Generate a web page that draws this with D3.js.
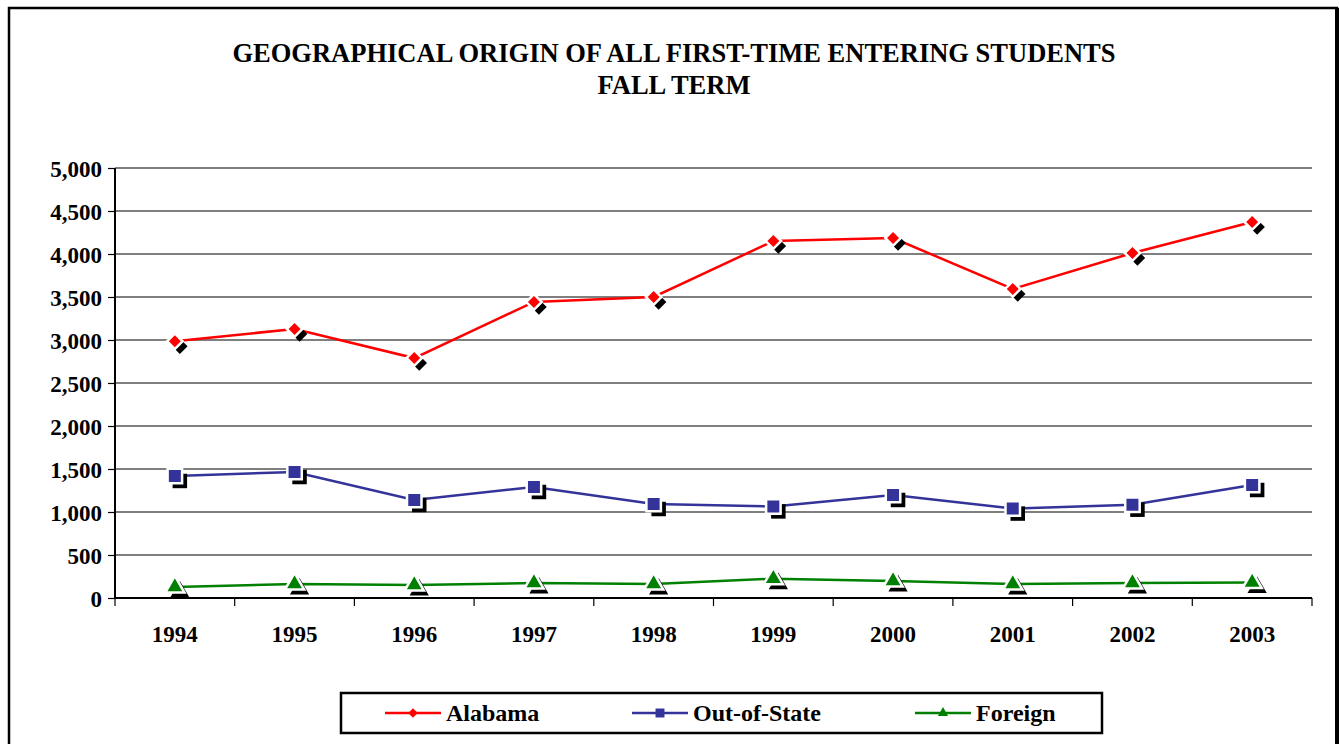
<!DOCTYPE html>
<html>
<head>
<meta charset="utf-8">
<script src="https://cdn.jsdelivr.net/npm/d3@7"></script>
<style>
  body { margin: 0; background: #fff; }
  svg { display: block; }
  text { font-family: "Liberation Serif", "Times New Roman", serif; font-weight: bold; fill: #000; }
</style>
</head>
<body>
<div id="chart"></div>
<script>
// Data
const years = ["1994", "1995", "1996", "1997", "1998", "1999", "2000", "2001", "2002", "2003"];
const alabama = [2986, 3128, 2790, 3442, 3500, 4151, 4186, 3593, 4012, 4372];
const outOfState = [1419, 1465, 1140, 1291, 1093, 1065, 1198, 1040, 1085, 1314];
const foreign = [128, 163, 151, 174, 163, 225, 198, 163, 174, 180];
const yTicks = [0, 500, 1000, 1500, 2000, 2500, 3000, 3500, 4000, 4500, 5000];
const titleLines = ["GEOGRAPHICAL ORIGIN OF ALL FIRST-TIME ENTERING STUDENTS", "FALL TERM"];

const series = [
    { name: "Alabama", values: alabama, color: "#FF0000", symbol: "diamond" },
    { name: "Out-of-State", values: outOfState, color: "#333399", symbol: "square" },
    { name: "Foreign", values: foreign, color: "#008000", symbol: "triangle" }
];

const W = 1339, H = 744;
const margin = { top: 168, right: 27, bottom: 146, left: 115 },
    width = W - margin.left - margin.right,
    height = H - margin.top - margin.bottom;

const svg = d3.select("#chart").append("svg")
    .attr("width", W)
    .attr("height", H);

// Outer frame
svg.append("rect")
    .attr("x", 9).attr("y", 8)
    .attr("width", 1328).attr("height", 760)
    .attr("fill", "none")
    .attr("stroke", "#000")
    .attr("stroke-width", 2.5);
svg.append("rect")
    .attr("x", 1335).attr("y", 8)
    .attr("width", 4).attr("height", H)
    .attr("fill", "#000");

// Title
svg.selectAll(".title")
    .data(titleLines)
    .enter()
    .append("text")
    .attr("x", 674)
    .attr("y", (d, i) => 62 + i * 32)
    .attr("text-anchor", "middle")
    .style("font-size", "26.5px")
    .text(d => d);

const g = svg.append("g")
    .attr("transform", `translate(${margin.left},${margin.top})`);

const x = d3.scaleBand()
    .domain(years)
    .range([0, width]);

const y = d3.scaleLinear()
    .domain([0, 5000])
    .range([height, 0]);

// Gridlines
g.selectAll(".grid")
    .data(yTicks.filter(d => d > 0))
    .enter()
    .append("line")
    .attr("x1", 0).attr("x2", width)
    .attr("y1", d => y(d)).attr("y2", d => y(d))
    .attr("stroke", "#000")
    .attr("stroke-width", 1.2);

// Y axis
g.append("g")
    .call(d3.axisLeft(y).tickValues(yTicks).tickSize(7).tickPadding(6).tickFormat(d3.format(",")))
    .call(a => a.select(".domain").attr("stroke-width", 2).attr("d", `M0,0V${height}`))
    .call(a => a.selectAll("line").attr("stroke-width", 1.2))
    .selectAll("text")
    .style("font-size", "23px")
    .style("font-family", "Liberation Serif, serif")
    .style("font-weight", "bold")
    .attr("dy", "0.35em");

// X axis: ticks between categories
const xAxis = g.append("g")
    .attr("transform", `translate(0,${height})`);
xAxis.append("line")
    .attr("x1", 0).attr("x2", width)
    .attr("stroke", "#000").attr("stroke-width", 2);
xAxis.selectAll(".xtick")
    .data(years.concat(["end"]))
    .enter()
    .append("line")
    .attr("x1", (d, i) => i * x.step())
    .attr("x2", (d, i) => i * x.step())
    .attr("y1", 0).attr("y2", 8)
    .attr("stroke", "#000").attr("stroke-width", 1.2);
xAxis.selectAll(".xlabel")
    .data(years)
    .enter()
    .append("text")
    .attr("x", d => x(d) + x.bandwidth() / 2)
    .attr("y", 44)
    .attr("text-anchor", "middle")
    .style("font-size", "23px")
    .text(d => d);

// Marker shapes
const symbolType = {
    diamond: d3.symbolSquare,
    square: d3.symbolSquare,
    triangle: d3.symbolTriangle
};
function markerPath(s, size) {
    return d3.symbol().type(symbolType[s]).size(size)();
}
function markerRotate(s) {
    return s === "diamond" ? " rotate(45)" : "";
}
const markerSize = { diamond: 120, square: 210, triangle: 160 };

const line = d3.line()
    .x((d, i) => x(years[i]) + x.bandwidth() / 2)
    .y(d => y(d));

series.forEach(s => {
    g.append("path")
        .datum(s.values)
        .attr("fill", "none")
        .attr("stroke", s.color)
        .attr("stroke-width", 2.5)
        .attr("d", line);

    const pts = g.append("g").selectAll("g")
        .data(s.values)
        .enter()
        .append("g")
        .attr("transform", (d, i) => `translate(${x(years[i]) + x.bandwidth() / 2},${y(d)})`);

    // shadow
    pts.append("path")
        .attr("d", markerPath(s.symbol, markerSize[s.symbol]))
        .attr("transform", "translate(5,5)" + markerRotate(s.symbol))
        .attr("fill", "#000");
    // marker with white halo
    pts.append("path")
        .attr("d", markerPath(s.symbol, markerSize[s.symbol]))
        .attr("transform", "translate(0,0)" + markerRotate(s.symbol))
        .attr("fill", s.color)
        .attr("stroke", "#fff")
        .attr("stroke-width", 2.5);
});

// Legend
const legend = svg.append("g");
legend.append("rect")
    .attr("x", 341).attr("y", 693)
    .attr("width", 761).attr("height", 40)
    .attr("fill", "#fff")
    .attr("stroke", "#000")
    .attr("stroke-width", 2.5);

const legendX = [385, 632, 915];
const items = legend.selectAll(".item")
    .data(series)
    .enter()
    .append("g")
    .attr("transform", (d, i) => `translate(${legendX[i]},713)`);
items.append("line")
    .attr("x1", 0).attr("x2", 56)
    .attr("stroke", d => d.color)
    .attr("stroke-width", 2.5);
items.append("path")
    .attr("d", d => markerPath(d.symbol, d.symbol === "square" ? 80 : 45))
    .attr("transform", d => "translate(28,0)" + markerRotate(d.symbol))
    .attr("fill", d => d.color);
items.append("text")
    .attr("x", 61)
    .attr("y", 0)
    .attr("dy", "0.35em")
    .style("font-size", "24px")
    .text(d => d.name);
</script>
</body>
</html>
